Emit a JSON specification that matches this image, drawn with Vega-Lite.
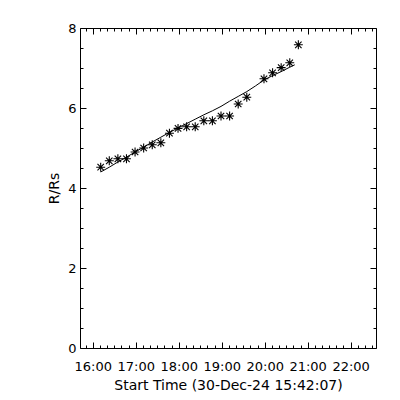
{
  "$schema": "https://vega.github.io/schema/vega-lite/v6.json",
  "autosize": "none",
  "width": 296,
  "height": 320,
  "padding": {"left": 80, "top": 28, "right": 24, "bottom": 52},
  "background": "white",
  "config": {
    "view": {"stroke": null},
    "axis": {
      "domainColor": "black",
      "tickColor": "black",
      "labelColor": "black",
      "titleColor": "black",
      "labelFont": "DejaVu Sans",
      "titleFont": "DejaVu Sans",
      "labelFontSize": 13,
      "titleFontSize": 14,
      "titleFontWeight": "normal",
      "grid": false,
      "labelOverlap": false,
      "labelFlush": false,
      "labelBound": false,
      "domainWidth": 1,
      "tickWidth": 1
    }
  },
  "datasets": {
    "obs": [
      {"t": "2024-12-30T16:11:00", "r": 4.52},
      {"t": "2024-12-30T16:23:00", "r": 4.68},
      {"t": "2024-12-30T16:35:00", "r": 4.73},
      {"t": "2024-12-30T16:47:00", "r": 4.73},
      {"t": "2024-12-30T16:59:00", "r": 4.90},
      {"t": "2024-12-30T17:11:00", "r": 5.00},
      {"t": "2024-12-30T17:23:00", "r": 5.08},
      {"t": "2024-12-30T17:35:00", "r": 5.13},
      {"t": "2024-12-30T17:47:00", "r": 5.37},
      {"t": "2024-12-30T17:59:00", "r": 5.49},
      {"t": "2024-12-30T18:11:00", "r": 5.53},
      {"t": "2024-12-30T18:23:00", "r": 5.53},
      {"t": "2024-12-30T18:35:00", "r": 5.68},
      {"t": "2024-12-30T18:47:00", "r": 5.68},
      {"t": "2024-12-30T18:59:00", "r": 5.80},
      {"t": "2024-12-30T19:11:00", "r": 5.80},
      {"t": "2024-12-30T19:23:00", "r": 6.10},
      {"t": "2024-12-30T19:35:00", "r": 6.27},
      {"t": "2024-12-30T19:59:00", "r": 6.73},
      {"t": "2024-12-30T20:11:00", "r": 6.88},
      {"t": "2024-12-30T20:23:00", "r": 7.01},
      {"t": "2024-12-30T20:35:00", "r": 7.13},
      {"t": "2024-12-30T20:47:00", "r": 7.58}
    ],
    "fit": [
      {"t": "2024-12-30T16:11:00", "r": 4.40},
      {"t": "2024-12-30T16:23:00", "r": 4.52},
      {"t": "2024-12-30T16:35:00", "r": 4.65},
      {"t": "2024-12-30T16:47:00", "r": 4.77},
      {"t": "2024-12-30T16:59:00", "r": 4.90},
      {"t": "2024-12-30T17:11:00", "r": 5.02},
      {"t": "2024-12-30T17:23:00", "r": 5.15},
      {"t": "2024-12-30T17:35:00", "r": 5.27},
      {"t": "2024-12-30T17:47:00", "r": 5.39},
      {"t": "2024-12-30T17:59:00", "r": 5.50},
      {"t": "2024-12-30T18:11:00", "r": 5.61},
      {"t": "2024-12-30T18:23:00", "r": 5.72},
      {"t": "2024-12-30T18:35:00", "r": 5.83},
      {"t": "2024-12-30T18:47:00", "r": 5.93},
      {"t": "2024-12-30T18:59:00", "r": 6.04},
      {"t": "2024-12-30T19:11:00", "r": 6.17},
      {"t": "2024-12-30T19:23:00", "r": 6.29},
      {"t": "2024-12-30T19:35:00", "r": 6.41},
      {"t": "2024-12-30T19:47:00", "r": 6.55},
      {"t": "2024-12-30T19:59:00", "r": 6.70},
      {"t": "2024-12-30T20:11:00", "r": 6.81},
      {"t": "2024-12-30T20:23:00", "r": 6.91},
      {"t": "2024-12-30T20:35:00", "r": 7.02},
      {"t": "2024-12-30T20:42:00", "r": 7.08}
    ]
  },
  "layer": [
    {
      "data": {"name": "fit"},
      "mark": {"type": "line", "color": "black", "strokeWidth": 1},
      "encoding": {
        "x": {
          "field": "t", "type": "temporal",
          "scale": {"domain": [{"year": 2024, "month": 12, "date": 30, "hours": 15, "minutes": 42, "seconds": 7}, {"year": 2024, "month": 12, "date": 30, "hours": 22, "minutes": 35, "seconds": 25}], "nice": false},
          "axis": {
            "orient": "bottom",
            "title": "Start Time (30-Dec-24 15:42:07)",
            "values": [
              {"year": 2024, "month": 12, "date": 30, "hours": 15, "minutes": 50},
              {"year": 2024, "month": 12, "date": 30, "hours": 16, "minutes": 0},
              {"year": 2024, "month": 12, "date": 30, "hours": 16, "minutes": 10},
              {"year": 2024, "month": 12, "date": 30, "hours": 16, "minutes": 20},
              {"year": 2024, "month": 12, "date": 30, "hours": 16, "minutes": 30},
              {"year": 2024, "month": 12, "date": 30, "hours": 16, "minutes": 40},
              {"year": 2024, "month": 12, "date": 30, "hours": 16, "minutes": 50},
              {"year": 2024, "month": 12, "date": 30, "hours": 17, "minutes": 0},
              {"year": 2024, "month": 12, "date": 30, "hours": 17, "minutes": 10},
              {"year": 2024, "month": 12, "date": 30, "hours": 17, "minutes": 20},
              {"year": 2024, "month": 12, "date": 30, "hours": 17, "minutes": 30},
              {"year": 2024, "month": 12, "date": 30, "hours": 17, "minutes": 40},
              {"year": 2024, "month": 12, "date": 30, "hours": 17, "minutes": 50},
              {"year": 2024, "month": 12, "date": 30, "hours": 18, "minutes": 0},
              {"year": 2024, "month": 12, "date": 30, "hours": 18, "minutes": 10},
              {"year": 2024, "month": 12, "date": 30, "hours": 18, "minutes": 20},
              {"year": 2024, "month": 12, "date": 30, "hours": 18, "minutes": 30},
              {"year": 2024, "month": 12, "date": 30, "hours": 18, "minutes": 40},
              {"year": 2024, "month": 12, "date": 30, "hours": 18, "minutes": 50},
              {"year": 2024, "month": 12, "date": 30, "hours": 19, "minutes": 0},
              {"year": 2024, "month": 12, "date": 30, "hours": 19, "minutes": 10},
              {"year": 2024, "month": 12, "date": 30, "hours": 19, "minutes": 20},
              {"year": 2024, "month": 12, "date": 30, "hours": 19, "minutes": 30},
              {"year": 2024, "month": 12, "date": 30, "hours": 19, "minutes": 40},
              {"year": 2024, "month": 12, "date": 30, "hours": 19, "minutes": 50},
              {"year": 2024, "month": 12, "date": 30, "hours": 20, "minutes": 0},
              {"year": 2024, "month": 12, "date": 30, "hours": 20, "minutes": 10},
              {"year": 2024, "month": 12, "date": 30, "hours": 20, "minutes": 20},
              {"year": 2024, "month": 12, "date": 30, "hours": 20, "minutes": 30},
              {"year": 2024, "month": 12, "date": 30, "hours": 20, "minutes": 40},
              {"year": 2024, "month": 12, "date": 30, "hours": 20, "minutes": 50},
              {"year": 2024, "month": 12, "date": 30, "hours": 21, "minutes": 0},
              {"year": 2024, "month": 12, "date": 30, "hours": 21, "minutes": 10},
              {"year": 2024, "month": 12, "date": 30, "hours": 21, "minutes": 20},
              {"year": 2024, "month": 12, "date": 30, "hours": 21, "minutes": 30},
              {"year": 2024, "month": 12, "date": 30, "hours": 21, "minutes": 40},
              {"year": 2024, "month": 12, "date": 30, "hours": 21, "minutes": 50},
              {"year": 2024, "month": 12, "date": 30, "hours": 22, "minutes": 0},
              {"year": 2024, "month": 12, "date": 30, "hours": 22, "minutes": 10},
              {"year": 2024, "month": 12, "date": 30, "hours": 22, "minutes": 20},
              {"year": 2024, "month": 12, "date": 30, "hours": 22, "minutes": 30}
            ],
            "labelExpr": "minutes(datum.value) == 0 ? timeFormat(datum.value, '%H:%M') : ''",
            "tickSize": {"condition": {"test": "minutes(datum.value) == 0", "value": -6}, "value": -3},
            "labelPadding": 18,
            "titlePadding": 2
          }
        },
        "y": {
          "field": "r", "type": "quantitative",
          "scale": {"domain": [0, 8], "nice": false, "zero": false},
          "axis": {
            "orient": "left",
            "title": "R/Rs",
            "values": [0, 0.5, 1, 1.5, 2, 2.5, 3, 3.5, 4, 4.5, 5, 5.5, 6, 6.5, 7, 7.5, 8],
            "labelExpr": "datum.value % 2 == 0 ? format(datum.value, 'd') : ''",
            "tickSize": {"condition": {"test": "datum.value % 2 == 0", "value": -6}, "value": -3},
            "labelPadding": 10,
            "titlePadding": 6
          }
        }
      }
    },
    {
      "data": {"name": "obs"},
      "mark": {
        "type": "point",
        "shape": "M -1 0 L 1 0 M 0 -1 L 0 1 M -0.72 -0.72 L 0.72 0.72 M -0.72 0.72 L 0.72 -0.72",
        "filled": false,
        "stroke": "black",
        "strokeWidth": 1.1,
        "size": 80,
        "opacity": 1
      },
      "encoding": {
        "x": {
          "field": "t", "type": "temporal",
          "axis": {
            "orient": "top",
            "title": null,
            "labels": false,
            "values": [
              {"year": 2024, "month": 12, "date": 30, "hours": 15, "minutes": 50},
              {"year": 2024, "month": 12, "date": 30, "hours": 16, "minutes": 0},
              {"year": 2024, "month": 12, "date": 30, "hours": 16, "minutes": 10},
              {"year": 2024, "month": 12, "date": 30, "hours": 16, "minutes": 20},
              {"year": 2024, "month": 12, "date": 30, "hours": 16, "minutes": 30},
              {"year": 2024, "month": 12, "date": 30, "hours": 16, "minutes": 40},
              {"year": 2024, "month": 12, "date": 30, "hours": 16, "minutes": 50},
              {"year": 2024, "month": 12, "date": 30, "hours": 17, "minutes": 0},
              {"year": 2024, "month": 12, "date": 30, "hours": 17, "minutes": 10},
              {"year": 2024, "month": 12, "date": 30, "hours": 17, "minutes": 20},
              {"year": 2024, "month": 12, "date": 30, "hours": 17, "minutes": 30},
              {"year": 2024, "month": 12, "date": 30, "hours": 17, "minutes": 40},
              {"year": 2024, "month": 12, "date": 30, "hours": 17, "minutes": 50},
              {"year": 2024, "month": 12, "date": 30, "hours": 18, "minutes": 0},
              {"year": 2024, "month": 12, "date": 30, "hours": 18, "minutes": 10},
              {"year": 2024, "month": 12, "date": 30, "hours": 18, "minutes": 20},
              {"year": 2024, "month": 12, "date": 30, "hours": 18, "minutes": 30},
              {"year": 2024, "month": 12, "date": 30, "hours": 18, "minutes": 40},
              {"year": 2024, "month": 12, "date": 30, "hours": 18, "minutes": 50},
              {"year": 2024, "month": 12, "date": 30, "hours": 19, "minutes": 0},
              {"year": 2024, "month": 12, "date": 30, "hours": 19, "minutes": 10},
              {"year": 2024, "month": 12, "date": 30, "hours": 19, "minutes": 20},
              {"year": 2024, "month": 12, "date": 30, "hours": 19, "minutes": 30},
              {"year": 2024, "month": 12, "date": 30, "hours": 19, "minutes": 40},
              {"year": 2024, "month": 12, "date": 30, "hours": 19, "minutes": 50},
              {"year": 2024, "month": 12, "date": 30, "hours": 20, "minutes": 0},
              {"year": 2024, "month": 12, "date": 30, "hours": 20, "minutes": 10},
              {"year": 2024, "month": 12, "date": 30, "hours": 20, "minutes": 20},
              {"year": 2024, "month": 12, "date": 30, "hours": 20, "minutes": 30},
              {"year": 2024, "month": 12, "date": 30, "hours": 20, "minutes": 40},
              {"year": 2024, "month": 12, "date": 30, "hours": 20, "minutes": 50},
              {"year": 2024, "month": 12, "date": 30, "hours": 21, "minutes": 0},
              {"year": 2024, "month": 12, "date": 30, "hours": 21, "minutes": 10},
              {"year": 2024, "month": 12, "date": 30, "hours": 21, "minutes": 20},
              {"year": 2024, "month": 12, "date": 30, "hours": 21, "minutes": 30},
              {"year": 2024, "month": 12, "date": 30, "hours": 21, "minutes": 40},
              {"year": 2024, "month": 12, "date": 30, "hours": 21, "minutes": 50},
              {"year": 2024, "month": 12, "date": 30, "hours": 22, "minutes": 0},
              {"year": 2024, "month": 12, "date": 30, "hours": 22, "minutes": 10},
              {"year": 2024, "month": 12, "date": 30, "hours": 22, "minutes": 20},
              {"year": 2024, "month": 12, "date": 30, "hours": 22, "minutes": 30}
            ],
            "tickSize": {"condition": {"test": "minutes(datum.value) == 0", "value": -6}, "value": -3}
          }
        },
        "y": {
          "field": "r", "type": "quantitative",
          "axis": {
            "orient": "right",
            "title": null,
            "labels": false,
            "values": [0, 0.5, 1, 1.5, 2, 2.5, 3, 3.5, 4, 4.5, 5, 5.5, 6, 6.5, 7, 7.5, 8],
            "tickSize": {"condition": {"test": "datum.value % 2 == 0", "value": -6}, "value": -3}
          }
        }
      }
    }
  ],
  "resolve": {"axis": {"x": "independent", "y": "independent"}}
}
